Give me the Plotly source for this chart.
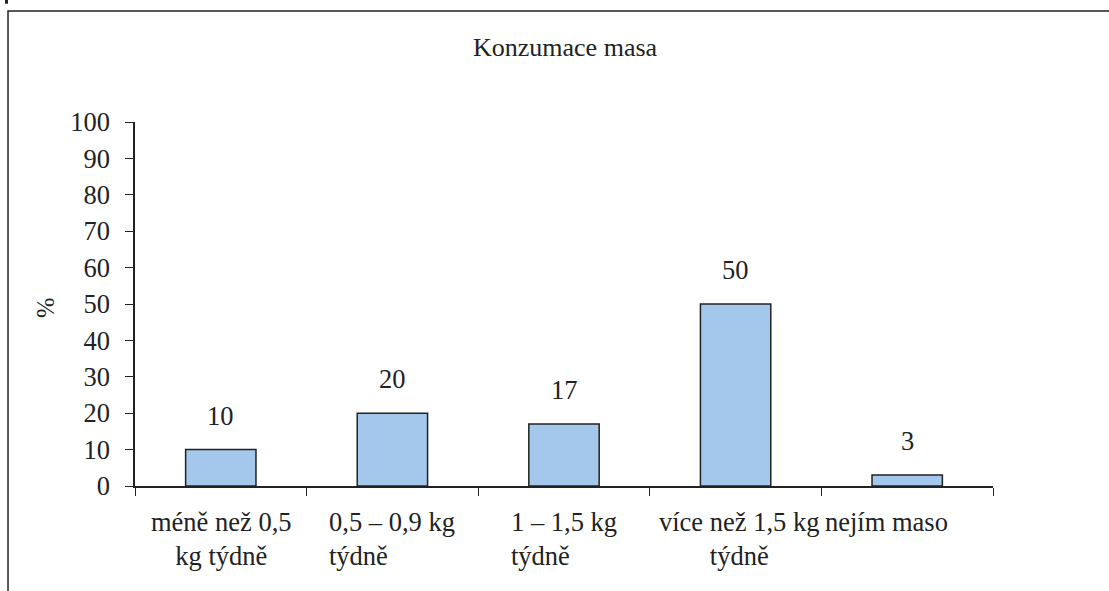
import plotly.graph_objects as go

# Meat consumption survey (percent of respondents)
categories = ["méně než 0,5 kg týdně", "0,5 – 0,9 kg týdně", "1 – 1,5 kg týdně",
              "více než 1,5 kg týdně", "nejím maso"]
label_lines = ["méně než 0,5<br>kg týdně", "0,5 – 0,9 kg<br>týdně", "1 – 1,5 kg<br>týdně",
               "více než 1,5 kg<br>týdně", "nejím maso"]
label_align = ["center", "left", "left", "center", "center"]
label_xshift = [1, 0, 0, 3, -21]
values = [10, 20, 17, 50, 3]
y_ticks = list(range(0, 101, 10))

FONT = "Liberation Serif"
INK = "#222222"
FS = 26.5

fig = go.Figure()
fig.add_trace(go.Bar(
    x=categories, y=values,
    marker=dict(color="#A3C8EC", line=dict(color=INK, width=1.5)),
    width=0.41, hoverinfo="skip",
))

annotations = []
# value labels above the bars
for c, v in zip(categories, values):
    annotations.append(dict(x=c, y=v, xref="x", yref="y", text=str(v), showarrow=False,
                            yanchor="bottom", yshift=17,
                            font=dict(family=FONT, size=FS, color=INK)))
# category labels under the axis
for c, t, a, dx in zip(categories, label_lines, label_align, label_xshift):
    annotations.append(dict(x=c, y=0, xref="x", yref="paper", text=t, showarrow=False,
                            yanchor="top", yshift=-19, xshift=dx, align=a,
                            font=dict(family=FONT, size=FS, color=INK)))
# axis title
annotations.append(dict(x=-0.1224, y=0.49, xref="paper", yref="paper", text="%",
                        showarrow=False, textangle=-90,
                        font=dict(family=FONT, size=FS - 2, color=INK)))
# chart title
annotations.append(dict(x=0.5, y=1.0, xref="paper", yref="paper", text="Konzumace masa",
                        showarrow=False, yanchor="middle", yshift=75, xshift=1,
                        font=dict(family=FONT, size=26, color=INK)))

fig.update_layout(
    width=1109, height=591,
    margin=dict(l=135, r=116, t=122, b=105),
    paper_bgcolor="white", plot_bgcolor="white",
    showlegend=False,
    annotations=annotations,
    xaxis=dict(type="category", showticklabels=False, ticks="outside", tickson="boundaries",
               ticklen=8, tickcolor=INK, tickwidth=1, showline=True, linecolor=INK,
               linewidth=1.5, showgrid=False, zeroline=False, fixedrange=True),
    yaxis=dict(range=[0, 100], tickvals=y_ticks, ticks="outside", ticklen=8,
               tickcolor=INK, tickwidth=1, showline=True, linecolor=INK, linewidth=1.5,
               showgrid=False, zeroline=False, ticklabelstandoff=10,
               tickfont=dict(family=FONT, size=FS, color=INK), fixedrange=True),
    shapes=[
        # chart frame
        dict(type="rect", xref="paper", yref="paper", x0=-0.148, x1=1.4, y0=-0.4, y1=1.305,
             line=dict(color=INK, width=1.5), fillcolor="rgba(0,0,0,0)", layer="below"),
        dict(type="rect", xref="paper", yref="paper", x0=-0.1515, x1=-0.1480,
             y0=1.325, y1=1.336, line=dict(width=0), fillcolor=INK),
    ],
)

fig.write_html("out.html")
